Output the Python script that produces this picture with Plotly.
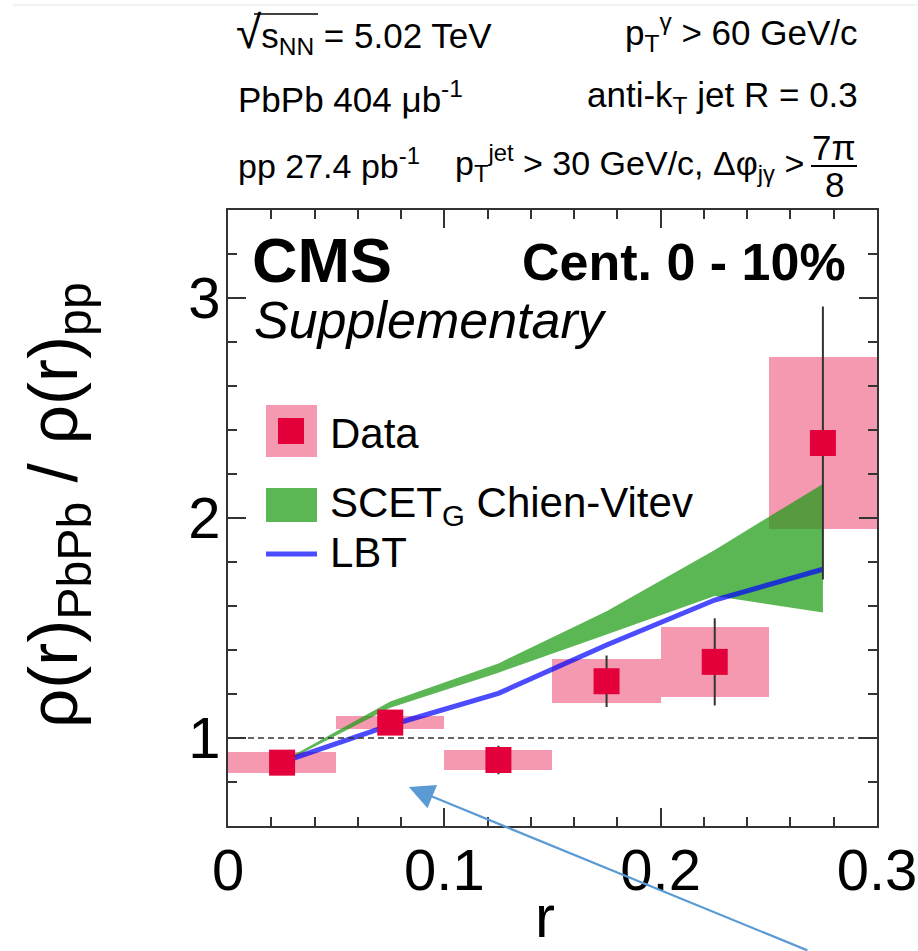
import plotly.graph_objects as go

# ---------------- data ----------------
r_centers = [0.025, 0.075, 0.125, 0.175, 0.225, 0.275]
r_low = [0.00, 0.05, 0.10, 0.15, 0.20, 0.25]
r_high = [0.05, 0.10, 0.15, 0.20, 0.25, 0.30]
data_ratio = [0.888, 1.07, 0.90, 1.258, 1.346, 2.341]
stat_err = [0.03, 0.04, 0.065, 0.117, 0.198, 0.62]
sys_err = [0.047, 0.031, 0.045, 0.10, 0.16, 0.392]

scet_upper = [0.893, 1.166, 1.339, 1.576, 1.855, 2.155]
scet_lower = [0.885, 1.138, 1.297, 1.470, 1.645, 1.571]
lbt = [0.89, 1.058, 1.203, 1.423, 1.627, 1.767]

x_ticks = [0, 0.1, 0.2, 0.3]
x_ticklabels = ["0", "0.1", "0.2", "0.3"]
y_ticks = [1, 2, 3]
y_ticklabels = ["1", "2", "3"]

FONT = "Liberation Sans, Arial, Helvetica, sans-serif"
PINK = "rgba(228,0,58,0.4)"
RED = "#E4003A"
GREEN = "rgba(30,155,20,0.73)"
BLUE = "rgba(0,0,255,0.7)"
FRAME = "#333333"

fig = go.Figure()

# systematic boxes
fig.add_trace(go.Bar(
    x=r_centers,
    y=[2 * s for s in sys_err],
    base=[v - s for v, s in zip(data_ratio, sys_err)],
    width=[h - l for l, h in zip(r_low, r_high)],
    marker=dict(color=PINK, line=dict(width=0)),
    showlegend=False, hoverinfo="skip",
))

# SCET_G band
fig.add_trace(go.Scatter(
    x=r_centers + r_centers[::-1],
    y=scet_upper + scet_lower[::-1],
    fill="toself", fillcolor=GREEN, mode="lines",
    line=dict(width=0, color=GREEN),
    showlegend=False, hoverinfo="skip",
))

# LBT
fig.add_trace(go.Scatter(
    x=r_centers, y=lbt, mode="lines",
    line=dict(color=BLUE, width=5),
    showlegend=False, hoverinfo="skip",
))

# data points with stat errors
fig.add_trace(go.Scatter(
    x=r_centers, y=data_ratio, mode="markers",
    marker=dict(symbol="square", size=26, color=RED, line=dict(width=0)),
    error_y=dict(type="data", array=stat_err, color=FRAME, thickness=2, width=0),
    showlegend=False, hoverinfo="skip",
))

# pixel -> paper helpers (plot area 228..877 x, 210..826 y)
L, R, T, B = 228, 877, 210, 826
def px(x):
    return (x - L) / (R - L)
def py(y):
    return (B - y) / (B - T)

shapes = []
annotations = []

# dashed unity line
shapes.append(dict(type="line", xref="paper", yref="y", x0=0, x1=1, y0=1, y1=1,
                   line=dict(color="#333333", width=1.5, dash="6px,4px")))

# faint top line
shapes.append(dict(type="line", xref="paper", yref="paper", x0=px(13), x1=px(918),
                   y0=py(5), y1=py(5), line=dict(color="#E6E6E6", width=1)))

# manual legend
shapes.append(dict(type="rect", xref="paper", yref="paper", x0=px(266), x1=px(317),
                   y0=py(457), y1=py(405), fillcolor=PINK, line=dict(width=0)))
shapes.append(dict(type="rect", xref="paper", yref="paper", x0=px(278), x1=px(304),
                   y0=py(444), y1=py(418), fillcolor=RED, line=dict(width=0)))
shapes.append(dict(type="rect", xref="paper", yref="paper", x0=px(266), x1=px(317),
                   y0=py(522), y1=py(488), fillcolor=GREEN, line=dict(width=0)))
shapes.append(dict(type="line", xref="paper", yref="paper", x0=px(266), x1=px(317),
                   y0=py(554), y1=py(554), line=dict(color=BLUE, width=5)))

def text(x, y, s, size, xanchor="left", **kw):
    annotations.append(dict(xref="paper", yref="paper", x=px(x), y=py(y), text=s,
                            showarrow=False, xanchor=xanchor, yanchor="middle",
                            font=dict(family=FONT, size=size, color="black"), **kw))

text(328, 433, "Data", 42)
text(328, 505, "SCET<sub>G</sub> Chien-Vitev", 42)
text(328, 552, "LBT", 42)

# CMS labels
text(250, 260, "<b>CMS</b>", 63)
text(252, 320, "<i>Supplementary</i>", 52)
text(848, 262, "<b>Cent. 0 - 10%</b>", 52, xanchor="right")

# header texts
text(234, 33, "<span style='font-size:46px'>√</span>s<sub>NN</sub> = 5.02 TeV", 35)
shapes.append(dict(type="line", xref="paper", yref="paper", x0=px(254), x1=px(318),
                   y0=py(14), y1=py(14), line=dict(color="black", width=1.5)))
text(860, 33, "p<sub>T</sub><sup>γ</sup> > 60 GeV/c", 35, xanchor="right")
text(236, 97, "PbPb 404 μb<sup>-1</sup>", 35)
text(860, 97, "anti-k<sub>T</sub> jet R = 0.3", 35, xanchor="right")
text(236, 163, "pp 27.4 pb<sup>-1</sup>", 34)
text(806, 163, "p<sub>T</sub><sup>jet</sup> > 30 GeV/c, Δφ<sub>jγ</sub> >", 34, xanchor="right")
text(834, 147, "7π", 35, xanchor="center")
text(834, 184, "8", 35, xanchor="center")
shapes.append(dict(type="line", xref="paper", yref="paper", x0=px(811), x1=px(857),
                   y0=py(166), y1=py(166), line=dict(color="black", width=2)))

# axis titles
text(58, 505, "ρ(r)<sub>PbPb</sub> / ρ(r)<sub>pp</sub>", 69, xanchor="center", textangle=-90)
text(545, 916, "r", 60, xanchor="center")

# blue arrow
annotations.append(dict(xref="x", yref="y", x=0.0836, y=0.777, text="",
                        showarrow=True, ax=400, ay=166, axref="pixel", ayref="pixel",
                        arrowcolor="#5B9BD5", arrowwidth=2.2, arrowhead=2, arrowsize=2.3,
                        standoff=0))

axis_common = dict(
    showline=True, linecolor=FRAME, linewidth=2, mirror="allticks",
    ticks="inside", tickcolor=FRAME, tickwidth=1.5, ticklen=18,
    showgrid=False, zeroline=False, automargin=False,
    tickfont=dict(family=FONT, size=58, color="black"),
)

fig.update_layout(
    width=918, height=951,
    margin=dict(l=L, r=918 - R, t=T, b=951 - B, autoexpand=False),
    paper_bgcolor="white", plot_bgcolor="white",
    showlegend=False,
    bargap=0,
    xaxis=dict(range=[0, 0.30001], tickvals=x_ticks, ticktext=x_ticklabels,
               minor=dict(ticks="inside", dtick=0.02, tick0=0, ticklen=9,
                          tickcolor=FRAME, tickwidth=1.5, showgrid=False),
               ticklabelstandoff=-8, ticklabeloverflow="allow",
               **axis_common),
    yaxis=dict(range=[0.6, 3.4], tickvals=y_ticks, ticktext=y_ticklabels,
               minor=dict(ticks="inside", dtick=0.2, tick0=0, ticklen=9,
                          tickcolor=FRAME, tickwidth=1.5, showgrid=False),
               ticklabelstandoff=-6, **axis_common),
    shapes=shapes,
    annotations=annotations,
)

fig.write_html("out.html")
